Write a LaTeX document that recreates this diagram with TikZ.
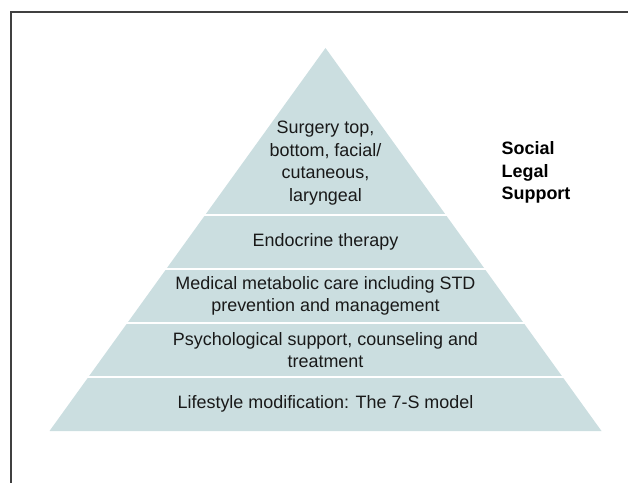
\documentclass[tikz,border=0pt]{standalone}
\usepackage{fontspec}
\setmainfont{Liberation Sans}
\definecolor{pyrfill}{RGB}{203,222,224}

\begin{document}
\begin{tikzpicture}[
  x=1bp, y=-1bp,
  font=\fontsize{18}{22.5}\selectfont,
  tier/.style={align=center, inner sep=0pt, text=black!90},
  side/.style={align=left, anchor=west, inner sep=0pt, font=\fontsize{18}{22.5}\selectfont\bfseries},
  cut/.style={draw=white, line width=1.6bp},
  frame/.style={draw=black!75, line width=1.5bp},
]
\useasboundingbox (0,0) rectangle (628,483);

% tip and base corners of the pyramid, rows are the white cuts
\coordinate (apex) at (325.5,48);
\coordinate (bl) at (49.5,431);
\coordinate (br) at (601.5,431);
\def\midx{325.5}

\fill[pyrfill] (apex) -- (bl) -- (br) -- cycle;
\foreach \y in {215,269,323,377}
  \draw[cut] (40,\y) -- (612,\y);

% one label per tier, top to bottom
\node[tier] (surg) at (\midx,163) {Surgery top,\\ bottom, facial/\\ cutaneous,\\ laryngeal};
\node[tier] (endo) at (\midx,242) {Endocrine therapy};
\node[tier] (meta) at (\midx,296) {Medical metabolic care including STD\\ prevention and management};
\node[tier] (psy)  at (\midx,350) {Psychological support, counseling and\\ treatment};
\node[tier] (life) at (\midx,404) {Lifestyle modification: The 7-S model};

\node[side] (soc) at (501.5,172.5) {Social\\ Legal\\ Support};

% slide frame, only top and left edges fall inside
\draw[frame] (11,483) -- (11,12) -- (628,12);

\end{tikzpicture}
\end{document}
